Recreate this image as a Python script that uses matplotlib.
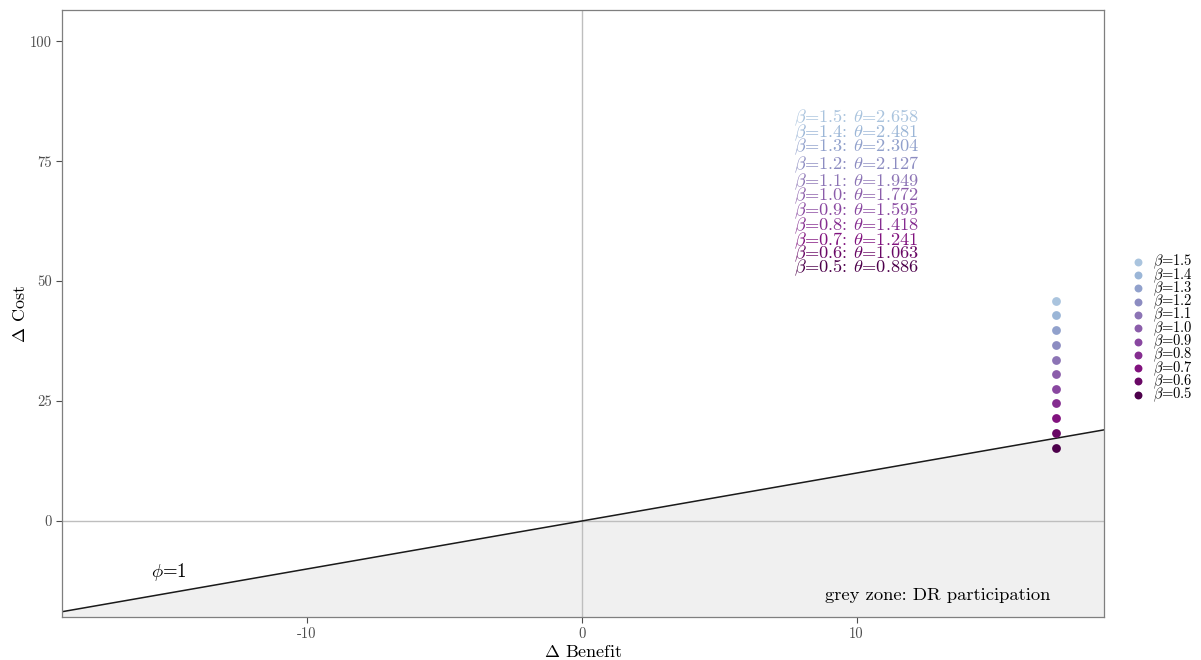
import numpy as np
import matplotlib
matplotlib.use("Agg")
import matplotlib.pyplot as plt

plt.rcParams['font.family'] = 'serif'
plt.rcParams['font.serif'] = ['cmr10']
plt.rcParams['mathtext.fontset'] = 'cm'
plt.rcParams['axes.unicode_minus'] = False

# data
betas = [1.5, 1.4, 1.3, 1.2, 1.1, 1.0, 0.9, 0.8, 0.7, 0.6, 0.5]
thetas = [2.658, 2.481, 2.304, 2.127, 1.949, 1.772, 1.595, 1.418, 1.241, 1.063, 0.886]
benefit = [17.24] * 11
cost = [45.8, 42.9, 39.8, 36.7, 33.6, 30.6, 27.5, 24.5, 21.4, 18.3, 15.3]
label_x = 10.0
label_y = [84.0, 81.0, 78.0, 74.2, 70.8, 67.7, 64.6, 61.5, 58.5, 55.6, 52.7]
xticks = [-10, 0, 10]
yticks = [0, 25, 50, 75, 100]
xlim = (-18.9, 19.0)
ylim = (-20.0, 106.5)
phi = 1.0

colors = plt.cm.BuPu(np.linspace(0.33, 1.0, len(betas)))

fig = plt.figure(figsize=(12.01, 6.6), dpi=100)
ax = fig.add_axes([62/1201, 43/660, (1104-62)/1201, (617-10)/660])

# grey zone below phi line
xs = np.array(xlim)
ax.fill_between(xs, xs * phi, ylim[0], color='#f0f0f0', zorder=0)
ax.axhline(0, color='#bebebe', lw=1.0, zorder=1)
ax.axvline(0, color='#bebebe', lw=1.0, zorder=1)
ax.plot(xs, xs * phi, color='#1a1a1a', lw=1.1, zorder=2)

for i in range(len(betas)):
    ax.scatter(benefit[i], cost[i], s=40, color=colors[i], lw=0, zorder=3,
               label=r'$\beta$=%.1f' % betas[i])
    ax.text(label_x, label_y[i], r'$\beta$=%.1f: $\theta$=%.3f' % (betas[i], thetas[i]),
            color=colors[i], fontsize=13.2, ha='center', va='center', zorder=4)

ax.text(-15.0, -10.6, r'$\phi$=1', fontsize=13.5, ha='center', va='center')
ax.text(12.95, -15.4, 'grey zone: DR participation', fontsize=13.4, ha='center', va='center')

ax.set_xlim(*xlim)
ax.set_ylim(*ylim)
ax.set_xticks(xticks)
ax.set_xticklabels([str(t) for t in xticks])
ax.set_yticks(yticks)
ax.set_yticklabels([str(t) for t in yticks])
ax.tick_params(colors='#4d4d4d', labelsize=10.5, length=4, width=0.8, labelcolor='#4d4d4d')
for sp in ax.spines.values():
    sp.set_color('#7f7f7f')
    sp.set_linewidth(0.9)

ax.set_xlabel(r'$\Delta$ Benefit', fontsize=13, labelpad=2)
ax.set_ylabel(r'$\Delta$ Cost', fontsize=13, labelpad=1)

fig.legend(loc='upper left', bbox_to_anchor=(1125/1201, 1 - 247/660), frameon=False,
           fontsize=10.5, handletextpad=0.55, labelspacing=-0.35, borderaxespad=0,
           handlelength=1.0, markerscale=0.9)

fig.savefig('out.png', dpi=100)
